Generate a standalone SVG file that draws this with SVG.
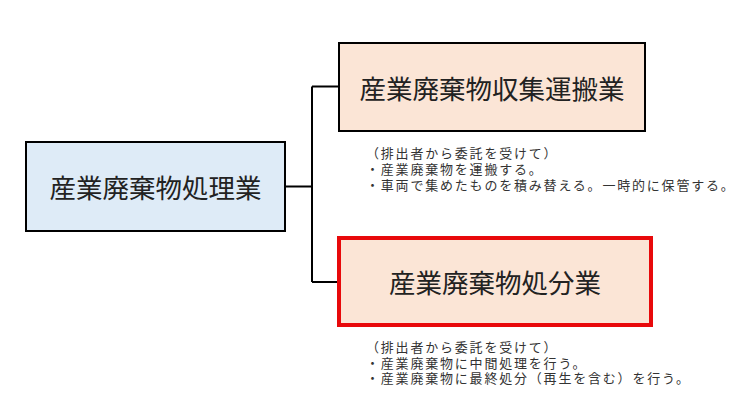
<svg xmlns="http://www.w3.org/2000/svg" width="751" height="408" viewBox="0 0 751 408">
<style>
.box{stroke:#000;stroke-width:2}
.t{font-family:"Noto Sans CJK JP","Noto Sans CJK SC",sans-serif;fill:#222;dominant-baseline:central}
.big{font-size:26.5px;text-anchor:middle}
.note{font-size:13px;letter-spacing:1.8px;fill:#333}
.conn{fill:none;stroke:#000;stroke-width:2}
</style>
<rect width="751" height="408" fill="#fff"/>
<g id="connectors">
<path class="conn" d="M285 186.5H312M312 86.5V282M312 86.5H339M312 282H339"/>
</g>
<g id="node-main">
<rect class="box" x="26" y="142" width="259" height="89" fill="#DEEBF7"/>
<text class="t big" x="155.5" y="186">産業廃棄物処理業</text>
</g>
<g id="node-collect">
<rect class="box" x="339" y="43" width="306" height="88" fill="#FBE5D6"/>
<text class="t big" x="492" y="87">産業廃棄物収集運搬業</text>
</g>
<g id="node-disposal">
<rect x="339" y="238" width="312" height="87" fill="#FBE5D6" stroke="#E8090B" stroke-width="4"/>
<text class="t big" x="495" y="281.5">産業廃棄物処分業</text>
</g>
<g id="note-collect">
<text class="t note" x="366" y="152.5">（排出者から委託を受けて）</text>
<text class="t note" x="366" y="168.5">・産業廃棄物を運搬する。</text>
<text class="t note" x="366" y="184.5">・車両で集めたものを積み替える。一時的に保管する。</text>
</g>
<g id="note-disposal">
<text class="t note" x="366" y="346.5">（排出者から委託を受けて）</text>
<text class="t note" x="366" y="362">・産業廃棄物に中間処理を行う。</text>
<text class="t note" x="366" y="377.5">・産業廃棄物に最終処分（再生を含む）を行う。</text>
</g>
</svg>
